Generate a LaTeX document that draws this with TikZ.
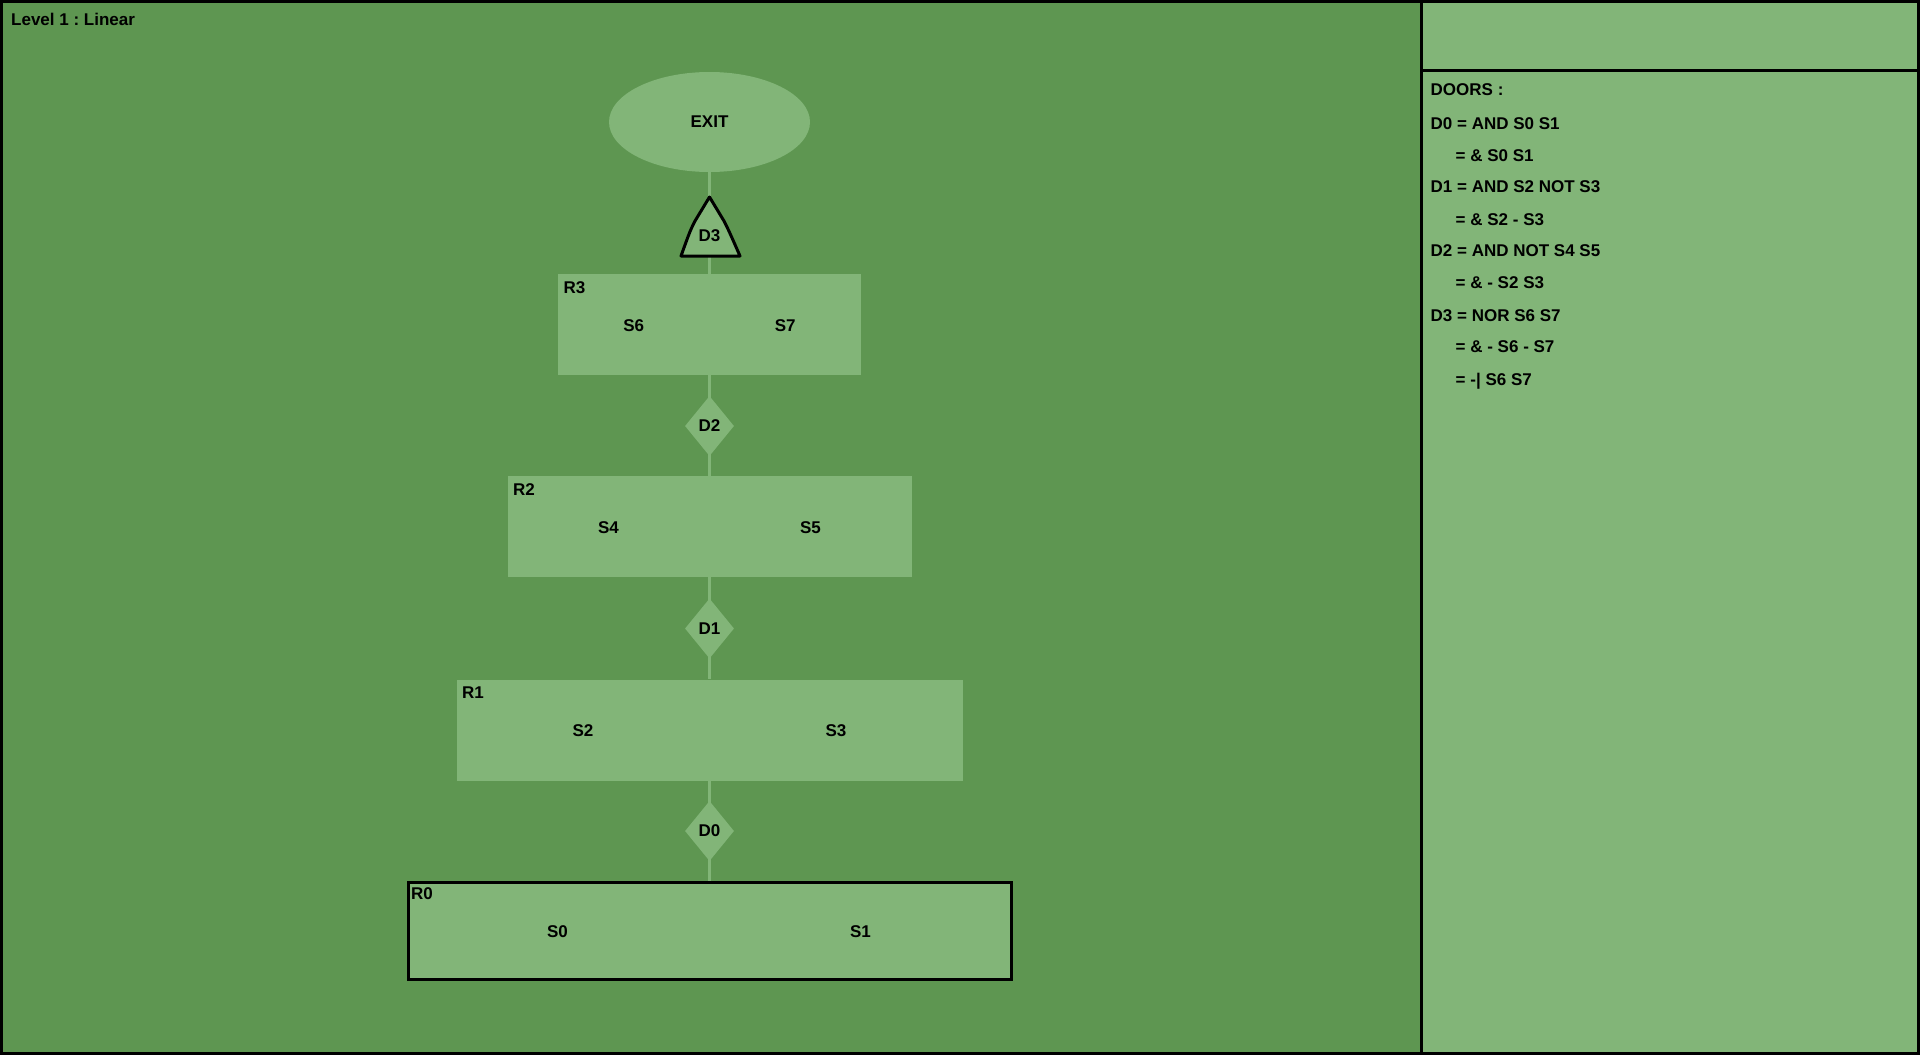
\documentclass[tikz,border=0pt]{standalone}
\usepackage{fontspec}
\setmainfont{Liberation Sans}
\usetikzlibrary{shapes.geometric}
\definecolor{dk}{RGB}{94,150,81}
\definecolor{lt}{RGB}{130,181,120}
\frenchspacing
\tikzset{
  txt/.style={font=\bfseries\fontsize{17}{19}\selectfont, inner sep=0pt, text=black},
  room/.style={fill=lt, draw=none, minimum height=101pt, inner sep=0pt},
  door/.style={diamond, fill=lt, draw=none, minimum width=49pt, minimum height=60pt, inner sep=0pt, aspect=0.82, txt},
  link/.style={draw=lt, line width=3pt},
  frame/.style={draw=black, line width=3pt},
  doc/.style={txt, anchor=base west},
}
\begin{document}
\begin{tikzpicture}[x=1pt,y=-1pt]
\useasboundingbox (0,0) rectangle (1920,1055);
\fill[dk] (0,0) rectangle (1920,1055);
\fill[lt] (1421,0) rectangle (1920,1055);

% rooms and exit
\coordinate (d3top) at (709.5,197);
\coordinate (d3bot) at (709.5,256);
\node[ellipse, fill=lt, minimum width=201pt, minimum height=100pt, inner sep=0pt, txt] (exit) at (709.5,122) {EXIT};
\node[room, minimum width=303pt] (r3) at (709.5,324.5) {};
\node[room, minimum width=404pt] (r2) at (709.5,526.5) {};
\node[room, minimum width=506pt] (r1) at (709.5,730) {};
\node[room, draw=black, line width=3pt, minimum width=603pt, minimum height=97pt] (r0) at (709.5,931) {};

% links
\draw[link] (exit.south) -- (d3top);
\draw[link] (d3bot) -- (r3.north);
\draw[link] (r3.south) -- (r2.north);
\draw[link] (r2.south) -- (r1.north);
\draw[link] (r1.south) -- (r0.north);

% doors
\draw[frame, fill=lt, line join=round] (709.5,197) -- (695,221) .. controls (690,231) .. (681,256) -- (740,256) .. controls (729,231) .. (724,221) -- cycle;
\node[txt] (d3) at (709.5,236) {D3};
\node[door] (d2) at (709.5,426) {D2};
\node[door] (d1) at (709.5,628.5) {D1};
\node[door] (d0) at (709.5,831) {D0};

% room labels
\node[txt, anchor=base west] (r3l) at ([xshift=5.5pt,yshift=-19.5pt]r3.north west) {R3};
\node[txt, anchor=base west] (r2l) at ([xshift=5.5pt,yshift=-19.5pt]r2.north west) {R2};
\node[txt, anchor=base west] (r1l) at ([xshift=5.5pt,yshift=-19.5pt]r1.north west) {R1};
\node[txt, anchor=base west] (r0l) at ([xshift=4.5pt,yshift=-18pt]r0.north west) {R0};

% switches
\node[txt] (s6) at (633.75,326) {S6};
\node[txt] (s7) at (785.25,326) {S7};
\node[txt] (s4) at (608.5,528) {S4};
\node[txt] (s5) at (810.5,528) {S5};
\node[txt] (s2) at (583,730.5) {S2};
\node[txt] (s3) at (836,730.5) {S3};
\node[txt] (s0) at (557.5,931.5) {S0};
\node[txt] (s1) at (860.5,931.5) {S1};

% frames
\draw[frame] (1.5,1.5) rectangle (1918.5,1053.5);
\draw[frame] (1421.5,0) -- (1421.5,1055);
\draw[frame] (1421.5,70.5) -- (1920,70.5);

\node[txt, anchor=base west] (title) at (11,25) {Level 1 : Linear};

% doors panel
\node[doc] (t0) at (1430.5,95) {DOORS :};
\node[doc] (t1) at (1430.5,129.3) {D0 = AND S0 S1};
\node[doc] (t2) at (1455.5,161) {= \& S0 S1};
\node[doc] (t3) at (1430.5,192.7) {D1 = AND S2 NOT S3};
\node[doc] (t4) at (1455.5,225) {= \& S2 - S3};
\node[doc] (t5) at (1430.5,256.7) {D2 = AND NOT S4 S5};
\node[doc] (t6) at (1455.5,288.7) {= \& - S2 S3};
\node[doc] (t7) at (1430.5,321) {D3 = NOR S6 S7};
\node[doc] (t8) at (1455.5,352.7) {= \& - S6 - S7};
\node[doc] (t9) at (1455.5,385) {= -| S6 S7};
\end{tikzpicture}
\end{document}
